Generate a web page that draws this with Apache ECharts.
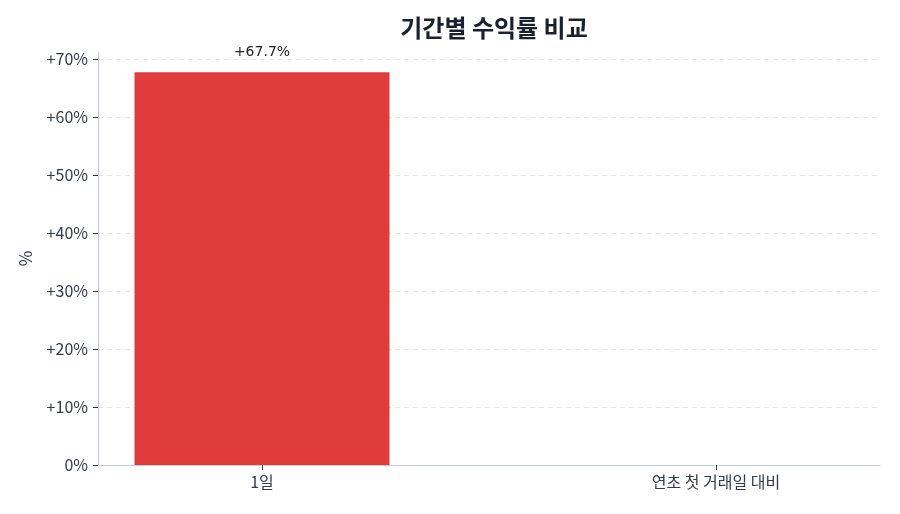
<!DOCTYPE html>
<html><head><meta charset="utf-8">
<script src="https://cdn.jsdelivr.net/npm/echarts@6/dist/echarts.min.js"></script>
<style>html,body{margin:0;padding:0;background:#fff}#c{width:900px;height:514px}</style>
</head><body><div id="c"></div>
<script>
const categories = ['1일', '연초 첫 거래일 대비'];
const returns = [67.7, null];
const yTicks = [0, 10, 20, 30, 40, 50, 60, 70];
const titleText = '기간별 수익률 비교';
const yName = '%';

const font = "'Noto Sans CJK KR', 'Noto Sans', sans-serif";
const fmtPct = v => (v > 0 ? '+' : '') + v + '%';
const chart = echarts.init(document.getElementById('c'));
chart.setOption({
  animation: false,
  title: { text: titleText, left: 489, top: 11, textAlign: 'center',
    textStyle: { fontFamily: font, fontSize: 24, fontWeight: 'bold', color: '#1a2030' } },
  grid: { left: 98, right: 20, top: 52, bottom: 49, containLabel: false },
  xAxis: {
    type: 'value', min: -0.3612, max: 1.3612,
    axisLine: { show: true, onZero: false, lineStyle: { color: '#c8ccd8', width: 1.2 } },
    axisTick: { show: true, customValues: [0, 1], length: 5, lineStyle: { color: '#333' } },
    axisLabel: { customValues: [0, 1], formatter: v => categories[Math.round(v)] ?? '',
      fontFamily: font, fontSize: 16, color: '#333a48', margin: 9 },
    splitLine: { show: false }
  },
  yAxis: {
    type: 'value', min: 0, max: 71.2, interval: 10,
    name: yName, nameLocation: 'middle', nameGap: 64, nameRotate: 90,
    nameTextStyle: { fontFamily: font, fontSize: 17, color: '#333a48' },
    axisLine: { show: true, onZero: false, lineStyle: { color: '#c8ccd8', width: 1.2 } },
    axisTick: { show: true, customValues: yTicks, length: 5, lineStyle: { color: '#333' } },
    axisLabel: { customValues: yTicks, formatter: v => v === 0 ? '0%' : fmtPct(v),
      fontFamily: font, fontSize: 16, color: '#333a48', margin: 10 },
    splitLine: { show: true, showMaxLine: true, showMinLine: false,
      lineStyle: { color: '#e3e6ee', type: [5, 4], width: 1 } }
  },
  series: [{
    type: 'bar',
    data: categories.map((c, i) => [i, returns[i]]),
    barWidth: 255,
    itemStyle: { color: '#e03c3c' },
    label: { show: true, position: 'top', distance: 13,
      formatter: p => p.value[1] == null ? '' : fmtPct(p.value[1]),
      fontFamily: "'DejaVu Sans', sans-serif", fontSize: 14, color: '#222' }
  }]
});
</script></body></html>
